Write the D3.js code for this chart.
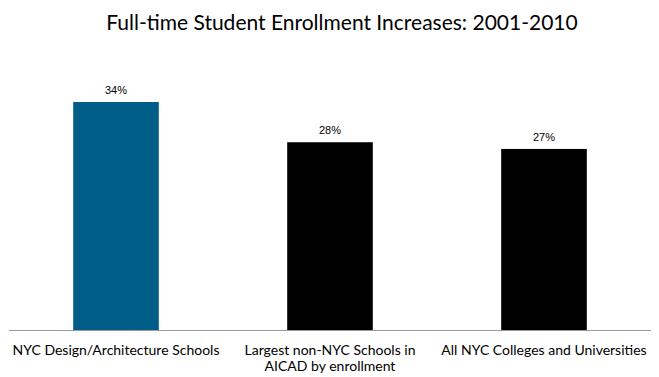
<!DOCTYPE html>
<html><head><meta charset="utf-8">
<script src="https://cdn.jsdelivr.net/npm/d3@7"></script>
<style>body{margin:0;background:#fff;}svg{display:block;}</style>
</head><body>
<svg id="chart" width="659" height="377"></svg>
<script>
const title = "Full-time Student Enrollment Increases: 2001-2010";
const categories = ["NYC Design/Architecture Schools", "Largest non-NYC Schools in AICAD by enrollment", "All NYC Colleges and Universities"];
const categoryLines = [["NYC Design/Architecture Schools"], ["Largest non-NYC Schools in", "AICAD by enrollment"], ["All NYC Colleges and Universities"]];
const values = [34, 28, 27];
const colors = ["#005F89", "#000000", "#000000"];

const svg = d3.select("#chart");
const baseY = 330;
const x = d3.scaleBand().domain(categories).range([9, 651]).paddingInner(0.6).paddingOuter(0.3);
const y = d3.scaleLinear().domain([0, 34]).range([baseY, 102]);

svg.append("text").attr("x", 342).attr("y", 30).attr("text-anchor", "middle")
  .style("font-family", "Lato, 'Open Sans', sans-serif").style("font-size", "21px").style("fill", "#000")
  .text(title);

svg.selectAll("rect.bar").data(values).enter().append("rect").attr("class", "bar")
  .attr("x", (d, i) => x(categories[i])).attr("width", x.bandwidth())
  .attr("y", d => y(d)).attr("height", d => baseY - y(d))
  .attr("fill", (d, i) => colors[i]);

svg.append("line").attr("x1", 9).attr("x2", 651).attr("y1", baseY + 0.5).attr("y2", baseY + 0.5)
  .attr("stroke", "#9a9a9a").attr("stroke-width", 1);

svg.selectAll("text.val").data(values).enter().append("text").attr("class", "val")
  .attr("x", (d, i) => x(categories[i]) + x.bandwidth() / 2).attr("y", d => y(d) - 8)
  .attr("text-anchor", "middle")
  .style("font-family", "'Liberation Sans', Arial, sans-serif").style("font-size", "11px").style("fill", "#000")
  .text(d => d + "%");

categoryLines.forEach((lines, i) => {
  const cx = x(categories[i]) + x.bandwidth() / 2;
  const t = svg.append("text").attr("text-anchor", "middle")
    .attr("x", cx).attr("y", 355)
    .style("font-family", "Lato, 'Open Sans', sans-serif").style("font-size", "14px").style("fill", "#000");
  lines.forEach((l, j) => t.append("tspan").attr("x", cx).attr("dy", j === 0 ? 0 : 16).text(l));
});
</script>
</body></html>
